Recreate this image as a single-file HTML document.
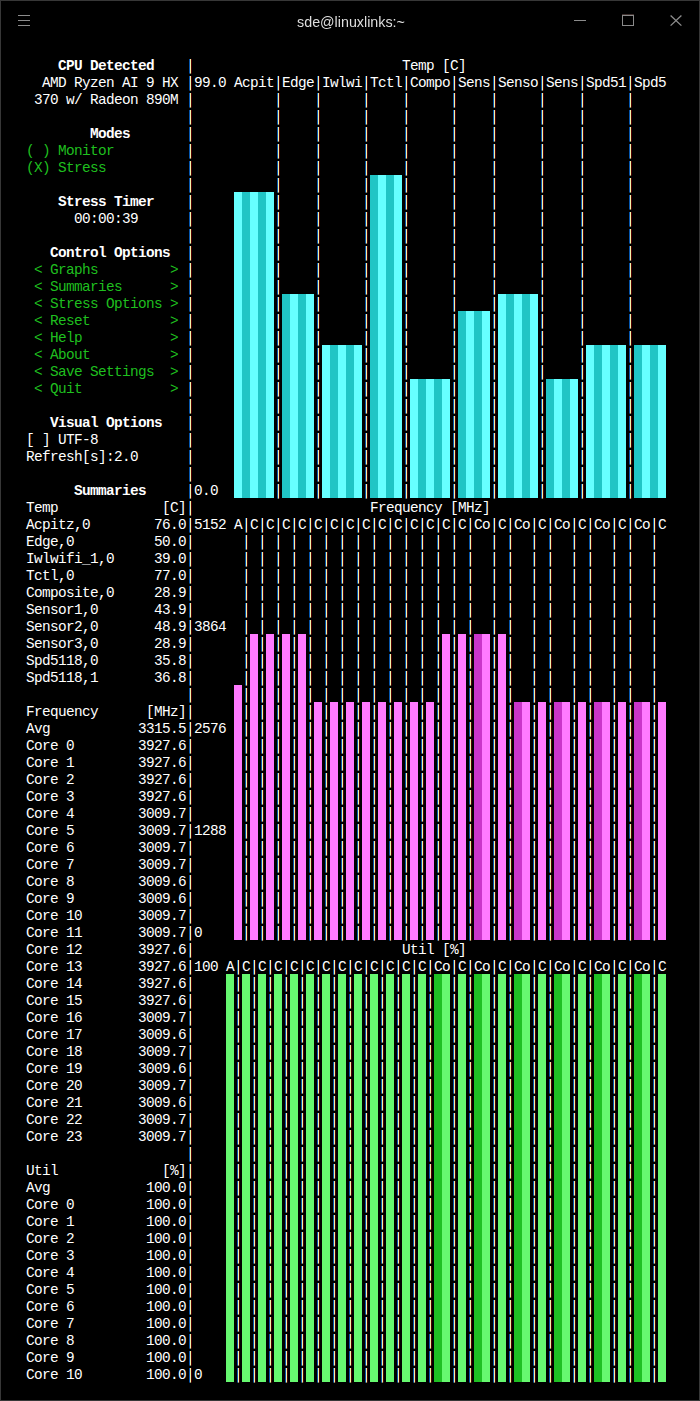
<!DOCTYPE html>
<html><head><meta charset="utf-8"><title>sde@linuxlinks:~</title>
<style>
html,body{margin:0;padding:0;background:#000;}
body{width:700px;height:1401px;position:relative;overflow:hidden;font-family:"Liberation Mono",monospace;}
#win{position:absolute;left:0;top:0;width:698px;height:1399px;border:1px solid #373737;background:#000;}
#title{position:absolute;left:1px;top:14px;width:700px;text-align:center;font-family:"Liberation Sans",sans-serif;font-size:14.3px;line-height:16px;color:#dedede;will-change:transform;}
.ic{position:absolute;background:#8c8c8c;}
#term{position:absolute;left:0;top:0;}
.t{position:absolute;height:17px;line-height:17px;font-size:14.4px;letter-spacing:-0.641px;color:#fff;white-space:pre;margin-top:2px;}
.b{font-weight:bold;}
.g{color:#1fbf1f;}
.p{position:absolute;width:3px;}
.p{background:repeating-linear-gradient(to bottom,transparent 0,transparent 14px,rgba(0,0,0,.4) 14px,rgba(0,0,0,.4) 15px,#000 15px,#000 17px),linear-gradient(to right,#0656ae 0,#0656ae 1px,#f2f2a8 1px,#f2f2a8 2px,#500000 2px,#500000 3px);}
.k{position:absolute;width:8px;}
</style></head><body>
<div id="win"></div>
<div class="ic" style="left:18px;top:15px;width:12px;height:1px"></div>
<div class="ic" style="left:18px;top:20px;width:12px;height:1px"></div>
<div class="ic" style="left:18px;top:25px;width:12px;height:1px"></div>
<div id="title">sde@linuxlinks:~</div>
<div class="ic" style="left:574px;top:20px;width:12px;height:1px"></div>
<div style="position:absolute;left:622px;top:14px;width:12px;height:1px;background:#3e302e"></div>
<div style="position:absolute;left:622px;top:15px;width:10px;height:9px;border:1px solid #8a8a8a"></div>
<svg style="position:absolute;left:669px;top:14px" width="14" height="14" viewBox="0 0 14 14"><path d="M1.6 1.5 L12.4 11.6 M12.4 1.5 L1.6 11.6" stroke="#8e8e8e" stroke-width="1.3" fill="none"/></svg>
<div id="term">
<div class="k" style="left:234px;top:192px;height:306px;background:#66ffff"></div>
<div class="k" style="left:242px;top:192px;height:306px;background:#20c5c5"></div>
<div class="k" style="left:250px;top:192px;height:306px;background:#66ffff"></div>
<div class="k" style="left:258px;top:192px;height:306px;background:#20c5c5"></div>
<div class="k" style="left:266px;top:192px;height:306px;background:#66ffff"></div>
<div class="k" style="left:282px;top:294px;height:204px;background:#20c5c5"></div>
<div class="k" style="left:290px;top:294px;height:204px;background:#66ffff"></div>
<div class="k" style="left:298px;top:294px;height:204px;background:#20c5c5"></div>
<div class="k" style="left:306px;top:294px;height:204px;background:#66ffff"></div>
<div class="k" style="left:322px;top:345px;height:153px;background:#66ffff"></div>
<div class="k" style="left:330px;top:345px;height:153px;background:#20c5c5"></div>
<div class="k" style="left:338px;top:345px;height:153px;background:#66ffff"></div>
<div class="k" style="left:346px;top:345px;height:153px;background:#20c5c5"></div>
<div class="k" style="left:354px;top:345px;height:153px;background:#66ffff"></div>
<div class="k" style="left:370px;top:175px;height:323px;background:#20c5c5"></div>
<div class="k" style="left:378px;top:175px;height:323px;background:#66ffff"></div>
<div class="k" style="left:386px;top:175px;height:323px;background:#20c5c5"></div>
<div class="k" style="left:394px;top:175px;height:323px;background:#66ffff"></div>
<div class="k" style="left:410px;top:379px;height:119px;background:#66ffff"></div>
<div class="k" style="left:418px;top:379px;height:119px;background:#20c5c5"></div>
<div class="k" style="left:426px;top:379px;height:119px;background:#66ffff"></div>
<div class="k" style="left:434px;top:379px;height:119px;background:#20c5c5"></div>
<div class="k" style="left:442px;top:379px;height:119px;background:#66ffff"></div>
<div class="k" style="left:458px;top:311px;height:187px;background:#20c5c5"></div>
<div class="k" style="left:466px;top:311px;height:187px;background:#66ffff"></div>
<div class="k" style="left:474px;top:311px;height:187px;background:#20c5c5"></div>
<div class="k" style="left:482px;top:311px;height:187px;background:#66ffff"></div>
<div class="k" style="left:498px;top:294px;height:204px;background:#66ffff"></div>
<div class="k" style="left:506px;top:294px;height:204px;background:#20c5c5"></div>
<div class="k" style="left:514px;top:294px;height:204px;background:#66ffff"></div>
<div class="k" style="left:522px;top:294px;height:204px;background:#20c5c5"></div>
<div class="k" style="left:530px;top:294px;height:204px;background:#66ffff"></div>
<div class="k" style="left:546px;top:379px;height:119px;background:#20c5c5"></div>
<div class="k" style="left:554px;top:379px;height:119px;background:#66ffff"></div>
<div class="k" style="left:562px;top:379px;height:119px;background:#20c5c5"></div>
<div class="k" style="left:570px;top:379px;height:119px;background:#66ffff"></div>
<div class="k" style="left:586px;top:345px;height:153px;background:#66ffff"></div>
<div class="k" style="left:594px;top:345px;height:153px;background:#20c5c5"></div>
<div class="k" style="left:602px;top:345px;height:153px;background:#66ffff"></div>
<div class="k" style="left:610px;top:345px;height:153px;background:#20c5c5"></div>
<div class="k" style="left:618px;top:345px;height:153px;background:#66ffff"></div>
<div class="k" style="left:634px;top:345px;height:153px;background:#20c5c5"></div>
<div class="k" style="left:642px;top:345px;height:153px;background:#66ffff"></div>
<div class="k" style="left:650px;top:345px;height:153px;background:#20c5c5"></div>
<div class="k" style="left:658px;top:345px;height:153px;background:#66ffff"></div>
<div class="k" style="left:234px;top:685px;height:255px;background:#ff7aff"></div>
<div class="k" style="left:250px;top:634px;height:306px;background:#ff7aff"></div>
<div class="k" style="left:266px;top:634px;height:306px;background:#ff7aff"></div>
<div class="k" style="left:282px;top:634px;height:306px;background:#ff7aff"></div>
<div class="k" style="left:298px;top:634px;height:306px;background:#ff7aff"></div>
<div class="k" style="left:314px;top:702px;height:238px;background:#ff7aff"></div>
<div class="k" style="left:330px;top:702px;height:238px;background:#ff7aff"></div>
<div class="k" style="left:346px;top:702px;height:238px;background:#ff7aff"></div>
<div class="k" style="left:362px;top:702px;height:238px;background:#ff7aff"></div>
<div class="k" style="left:378px;top:702px;height:238px;background:#ff7aff"></div>
<div class="k" style="left:394px;top:702px;height:238px;background:#ff7aff"></div>
<div class="k" style="left:410px;top:702px;height:238px;background:#ff7aff"></div>
<div class="k" style="left:426px;top:702px;height:238px;background:#ff7aff"></div>
<div class="k" style="left:442px;top:634px;height:306px;background:#ff7aff"></div>
<div class="k" style="left:458px;top:634px;height:306px;background:#ff7aff"></div>
<div class="k" style="left:474px;top:634px;height:306px;background:#c935c9"></div>
<div class="k" style="left:482px;top:634px;height:306px;background:#ff7aff"></div>
<div class="k" style="left:498px;top:634px;height:306px;background:#ff7aff"></div>
<div class="k" style="left:514px;top:702px;height:238px;background:#c935c9"></div>
<div class="k" style="left:522px;top:702px;height:238px;background:#ff7aff"></div>
<div class="k" style="left:538px;top:702px;height:238px;background:#ff7aff"></div>
<div class="k" style="left:554px;top:702px;height:238px;background:#c935c9"></div>
<div class="k" style="left:562px;top:702px;height:238px;background:#ff7aff"></div>
<div class="k" style="left:578px;top:702px;height:238px;background:#ff7aff"></div>
<div class="k" style="left:594px;top:702px;height:238px;background:#c935c9"></div>
<div class="k" style="left:602px;top:702px;height:238px;background:#ff7aff"></div>
<div class="k" style="left:618px;top:702px;height:238px;background:#ff7aff"></div>
<div class="k" style="left:634px;top:702px;height:238px;background:#c935c9"></div>
<div class="k" style="left:642px;top:702px;height:238px;background:#ff7aff"></div>
<div class="k" style="left:658px;top:702px;height:238px;background:#ff7aff"></div>
<div class="k" style="left:226px;top:974px;height:408px;background:#66f870"></div>
<div class="k" style="left:242px;top:974px;height:408px;background:#66f870"></div>
<div class="k" style="left:258px;top:974px;height:408px;background:#66f870"></div>
<div class="k" style="left:274px;top:974px;height:408px;background:#66f870"></div>
<div class="k" style="left:290px;top:974px;height:408px;background:#66f870"></div>
<div class="k" style="left:306px;top:974px;height:408px;background:#66f870"></div>
<div class="k" style="left:322px;top:974px;height:408px;background:#66f870"></div>
<div class="k" style="left:338px;top:974px;height:408px;background:#66f870"></div>
<div class="k" style="left:354px;top:974px;height:408px;background:#66f870"></div>
<div class="k" style="left:370px;top:974px;height:408px;background:#66f870"></div>
<div class="k" style="left:386px;top:974px;height:408px;background:#66f870"></div>
<div class="k" style="left:402px;top:974px;height:408px;background:#66f870"></div>
<div class="k" style="left:418px;top:974px;height:408px;background:#66f870"></div>
<div class="k" style="left:434px;top:974px;height:408px;background:#1fc024"></div>
<div class="k" style="left:442px;top:974px;height:408px;background:#66f870"></div>
<div class="k" style="left:458px;top:974px;height:408px;background:#66f870"></div>
<div class="k" style="left:474px;top:974px;height:408px;background:#1fc024"></div>
<div class="k" style="left:482px;top:974px;height:408px;background:#66f870"></div>
<div class="k" style="left:498px;top:974px;height:408px;background:#66f870"></div>
<div class="k" style="left:514px;top:974px;height:408px;background:#1fc024"></div>
<div class="k" style="left:522px;top:974px;height:408px;background:#66f870"></div>
<div class="k" style="left:538px;top:974px;height:408px;background:#66f870"></div>
<div class="k" style="left:554px;top:974px;height:408px;background:#1fc024"></div>
<div class="k" style="left:562px;top:974px;height:408px;background:#66f870"></div>
<div class="k" style="left:578px;top:974px;height:408px;background:#66f870"></div>
<div class="k" style="left:594px;top:974px;height:408px;background:#1fc024"></div>
<div class="k" style="left:602px;top:974px;height:408px;background:#66f870"></div>
<div class="k" style="left:618px;top:974px;height:408px;background:#66f870"></div>
<div class="k" style="left:634px;top:974px;height:408px;background:#1fc024"></div>
<div class="k" style="left:642px;top:974px;height:408px;background:#66f870"></div>
<div class="k" style="left:658px;top:974px;height:408px;background:#66f870"></div>
<div class="p" style="left:189px;top:59px;height:1324px"></div>
<div class="p" style="left:277px;top:76px;height:423px"></div>
<div class="p" style="left:317px;top:76px;height:423px"></div>
<div class="p" style="left:365px;top:76px;height:423px"></div>
<div class="p" style="left:405px;top:76px;height:423px"></div>
<div class="p" style="left:453px;top:76px;height:423px"></div>
<div class="p" style="left:493px;top:76px;height:423px"></div>
<div class="p" style="left:541px;top:76px;height:423px"></div>
<div class="p" style="left:581px;top:76px;height:423px"></div>
<div class="p" style="left:629px;top:76px;height:423px"></div>
<div class="p" style="left:245px;top:518px;height:423px"></div>
<div class="p" style="left:261px;top:518px;height:423px"></div>
<div class="p" style="left:277px;top:518px;height:423px"></div>
<div class="p" style="left:293px;top:518px;height:423px"></div>
<div class="p" style="left:309px;top:518px;height:423px"></div>
<div class="p" style="left:325px;top:518px;height:423px"></div>
<div class="p" style="left:341px;top:518px;height:423px"></div>
<div class="p" style="left:357px;top:518px;height:423px"></div>
<div class="p" style="left:373px;top:518px;height:423px"></div>
<div class="p" style="left:389px;top:518px;height:423px"></div>
<div class="p" style="left:405px;top:518px;height:423px"></div>
<div class="p" style="left:421px;top:518px;height:423px"></div>
<div class="p" style="left:437px;top:518px;height:423px"></div>
<div class="p" style="left:453px;top:518px;height:423px"></div>
<div class="p" style="left:469px;top:518px;height:423px"></div>
<div class="p" style="left:493px;top:518px;height:423px"></div>
<div class="p" style="left:509px;top:518px;height:423px"></div>
<div class="p" style="left:533px;top:518px;height:423px"></div>
<div class="p" style="left:549px;top:518px;height:423px"></div>
<div class="p" style="left:573px;top:518px;height:423px"></div>
<div class="p" style="left:589px;top:518px;height:423px"></div>
<div class="p" style="left:613px;top:518px;height:423px"></div>
<div class="p" style="left:629px;top:518px;height:423px"></div>
<div class="p" style="left:653px;top:518px;height:423px"></div>
<div class="p" style="left:237px;top:960px;height:423px"></div>
<div class="p" style="left:253px;top:960px;height:423px"></div>
<div class="p" style="left:269px;top:960px;height:423px"></div>
<div class="p" style="left:285px;top:960px;height:423px"></div>
<div class="p" style="left:301px;top:960px;height:423px"></div>
<div class="p" style="left:317px;top:960px;height:423px"></div>
<div class="p" style="left:333px;top:960px;height:423px"></div>
<div class="p" style="left:349px;top:960px;height:423px"></div>
<div class="p" style="left:365px;top:960px;height:423px"></div>
<div class="p" style="left:381px;top:960px;height:423px"></div>
<div class="p" style="left:397px;top:960px;height:423px"></div>
<div class="p" style="left:413px;top:960px;height:423px"></div>
<div class="p" style="left:429px;top:960px;height:423px"></div>
<div class="p" style="left:453px;top:960px;height:423px"></div>
<div class="p" style="left:469px;top:960px;height:423px"></div>
<div class="p" style="left:493px;top:960px;height:423px"></div>
<div class="p" style="left:509px;top:960px;height:423px"></div>
<div class="p" style="left:533px;top:960px;height:423px"></div>
<div class="p" style="left:549px;top:960px;height:423px"></div>
<div class="p" style="left:573px;top:960px;height:423px"></div>
<div class="p" style="left:589px;top:960px;height:423px"></div>
<div class="p" style="left:613px;top:960px;height:423px"></div>
<div class="p" style="left:629px;top:960px;height:423px"></div>
<div class="p" style="left:653px;top:960px;height:423px"></div>
<div class="t b" style="left:58px;top:56px">CPU Detected</div>
<div class="t" style="left:402px;top:56px">Temp [C]</div>
<div class="t" style="left:42px;top:73px">AMD Ryzen AI 9 HX</div>
<div class="t" style="left:194px;top:73px">99.0</div>
<div class="t" style="left:234px;top:73px">Acpit</div>
<div class="t" style="left:282px;top:73px">Edge</div>
<div class="t" style="left:322px;top:73px">Iwlwi</div>
<div class="t" style="left:370px;top:73px">Tctl</div>
<div class="t" style="left:410px;top:73px">Compo</div>
<div class="t" style="left:458px;top:73px">Sens</div>
<div class="t" style="left:498px;top:73px">Senso</div>
<div class="t" style="left:546px;top:73px">Sens</div>
<div class="t" style="left:586px;top:73px">Spd51</div>
<div class="t" style="left:634px;top:73px">Spd5</div>
<div class="t" style="left:34px;top:90px">370 w/ Radeon 890M</div>
<div class="t b" style="left:90px;top:124px">Modes</div>
<div class="t g" style="left:26px;top:141px">( ) Monitor</div>
<div class="t g" style="left:26px;top:158px">(X) Stress</div>
<div class="t b" style="left:58px;top:192px">Stress Timer</div>
<div class="t" style="left:74px;top:209px">00:00:39</div>
<div class="t b" style="left:50px;top:243px">Control Options</div>
<div class="t g" style="left:34px;top:260px">&lt; Graphs         &gt;</div>
<div class="t g" style="left:34px;top:277px">&lt; Summaries      &gt;</div>
<div class="t g" style="left:34px;top:294px">&lt; Stress Options &gt;</div>
<div class="t g" style="left:34px;top:311px">&lt; Reset          &gt;</div>
<div class="t g" style="left:34px;top:328px">&lt; Help           &gt;</div>
<div class="t g" style="left:34px;top:345px">&lt; About          &gt;</div>
<div class="t g" style="left:34px;top:362px">&lt; Save Settings  &gt;</div>
<div class="t g" style="left:34px;top:379px">&lt; Quit           &gt;</div>
<div class="t b" style="left:50px;top:413px">Visual Options</div>
<div class="t" style="left:26px;top:430px">[ ] UTF-8</div>
<div class="t" style="left:26px;top:447px">Refresh[s]:2.0</div>
<div class="t b" style="left:74px;top:481px">Summaries</div>
<div class="t" style="left:194px;top:481px">0.0</div>
<div class="t" style="left:26px;top:498px">Temp</div>
<div class="t" style="left:162px;top:498px">[C]</div>
<div class="t" style="left:370px;top:498px">Frequency [MHz]</div>
<div class="t" style="left:26px;top:515px">Acpitz,0</div>
<div class="t" style="left:154px;top:515px">76.0</div>
<div class="t" style="left:194px;top:515px">5152</div>
<div class="t" style="left:234px;top:515px">A</div>
<div class="t" style="left:250px;top:515px">C</div>
<div class="t" style="left:266px;top:515px">C</div>
<div class="t" style="left:282px;top:515px">C</div>
<div class="t" style="left:298px;top:515px">C</div>
<div class="t" style="left:314px;top:515px">C</div>
<div class="t" style="left:330px;top:515px">C</div>
<div class="t" style="left:346px;top:515px">C</div>
<div class="t" style="left:362px;top:515px">C</div>
<div class="t" style="left:378px;top:515px">C</div>
<div class="t" style="left:394px;top:515px">C</div>
<div class="t" style="left:410px;top:515px">C</div>
<div class="t" style="left:426px;top:515px">C</div>
<div class="t" style="left:442px;top:515px">C</div>
<div class="t" style="left:458px;top:515px">C</div>
<div class="t" style="left:474px;top:515px">Co</div>
<div class="t" style="left:498px;top:515px">C</div>
<div class="t" style="left:514px;top:515px">Co</div>
<div class="t" style="left:538px;top:515px">C</div>
<div class="t" style="left:554px;top:515px">Co</div>
<div class="t" style="left:578px;top:515px">C</div>
<div class="t" style="left:594px;top:515px">Co</div>
<div class="t" style="left:618px;top:515px">C</div>
<div class="t" style="left:634px;top:515px">Co</div>
<div class="t" style="left:658px;top:515px">C</div>
<div class="t" style="left:26px;top:532px">Edge,0</div>
<div class="t" style="left:154px;top:532px">50.0</div>
<div class="t" style="left:26px;top:549px">Iwlwifi_1,0</div>
<div class="t" style="left:154px;top:549px">39.0</div>
<div class="t" style="left:26px;top:566px">Tctl,0</div>
<div class="t" style="left:154px;top:566px">77.0</div>
<div class="t" style="left:26px;top:583px">Composite,0</div>
<div class="t" style="left:154px;top:583px">28.9</div>
<div class="t" style="left:26px;top:600px">Sensor1,0</div>
<div class="t" style="left:154px;top:600px">43.9</div>
<div class="t" style="left:26px;top:617px">Sensor2,0</div>
<div class="t" style="left:154px;top:617px">48.9</div>
<div class="t" style="left:194px;top:617px">3864</div>
<div class="t" style="left:26px;top:634px">Sensor3,0</div>
<div class="t" style="left:154px;top:634px">28.9</div>
<div class="t" style="left:26px;top:651px">Spd5118,0</div>
<div class="t" style="left:154px;top:651px">35.8</div>
<div class="t" style="left:26px;top:668px">Spd5118,1</div>
<div class="t" style="left:154px;top:668px">36.8</div>
<div class="t" style="left:26px;top:702px">Frequency</div>
<div class="t" style="left:146px;top:702px">[MHz]</div>
<div class="t" style="left:26px;top:719px">Avg</div>
<div class="t" style="left:138px;top:719px">3315.5</div>
<div class="t" style="left:194px;top:719px">2576</div>
<div class="t" style="left:26px;top:736px">Core 0</div>
<div class="t" style="left:138px;top:736px">3927.6</div>
<div class="t" style="left:26px;top:753px">Core 1</div>
<div class="t" style="left:138px;top:753px">3927.6</div>
<div class="t" style="left:26px;top:770px">Core 2</div>
<div class="t" style="left:138px;top:770px">3927.6</div>
<div class="t" style="left:26px;top:787px">Core 3</div>
<div class="t" style="left:138px;top:787px">3927.6</div>
<div class="t" style="left:26px;top:804px">Core 4</div>
<div class="t" style="left:138px;top:804px">3009.7</div>
<div class="t" style="left:26px;top:821px">Core 5</div>
<div class="t" style="left:138px;top:821px">3009.7</div>
<div class="t" style="left:194px;top:821px">1288</div>
<div class="t" style="left:26px;top:838px">Core 6</div>
<div class="t" style="left:138px;top:838px">3009.7</div>
<div class="t" style="left:26px;top:855px">Core 7</div>
<div class="t" style="left:138px;top:855px">3009.7</div>
<div class="t" style="left:26px;top:872px">Core 8</div>
<div class="t" style="left:138px;top:872px">3009.6</div>
<div class="t" style="left:26px;top:889px">Core 9</div>
<div class="t" style="left:138px;top:889px">3009.6</div>
<div class="t" style="left:26px;top:906px">Core 10</div>
<div class="t" style="left:138px;top:906px">3009.7</div>
<div class="t" style="left:26px;top:923px">Core 11</div>
<div class="t" style="left:138px;top:923px">3009.7</div>
<div class="t" style="left:194px;top:923px">0</div>
<div class="t" style="left:26px;top:940px">Core 12</div>
<div class="t" style="left:138px;top:940px">3927.6</div>
<div class="t" style="left:402px;top:940px">Util [%]</div>
<div class="t" style="left:26px;top:957px">Core 13</div>
<div class="t" style="left:138px;top:957px">3927.6</div>
<div class="t" style="left:194px;top:957px">100</div>
<div class="t" style="left:226px;top:957px">A</div>
<div class="t" style="left:242px;top:957px">C</div>
<div class="t" style="left:258px;top:957px">C</div>
<div class="t" style="left:274px;top:957px">C</div>
<div class="t" style="left:290px;top:957px">C</div>
<div class="t" style="left:306px;top:957px">C</div>
<div class="t" style="left:322px;top:957px">C</div>
<div class="t" style="left:338px;top:957px">C</div>
<div class="t" style="left:354px;top:957px">C</div>
<div class="t" style="left:370px;top:957px">C</div>
<div class="t" style="left:386px;top:957px">C</div>
<div class="t" style="left:402px;top:957px">C</div>
<div class="t" style="left:418px;top:957px">C</div>
<div class="t" style="left:434px;top:957px">Co</div>
<div class="t" style="left:458px;top:957px">C</div>
<div class="t" style="left:474px;top:957px">Co</div>
<div class="t" style="left:498px;top:957px">C</div>
<div class="t" style="left:514px;top:957px">Co</div>
<div class="t" style="left:538px;top:957px">C</div>
<div class="t" style="left:554px;top:957px">Co</div>
<div class="t" style="left:578px;top:957px">C</div>
<div class="t" style="left:594px;top:957px">Co</div>
<div class="t" style="left:618px;top:957px">C</div>
<div class="t" style="left:634px;top:957px">Co</div>
<div class="t" style="left:658px;top:957px">C</div>
<div class="t" style="left:26px;top:974px">Core 14</div>
<div class="t" style="left:138px;top:974px">3927.6</div>
<div class="t" style="left:26px;top:991px">Core 15</div>
<div class="t" style="left:138px;top:991px">3927.6</div>
<div class="t" style="left:26px;top:1008px">Core 16</div>
<div class="t" style="left:138px;top:1008px">3009.7</div>
<div class="t" style="left:26px;top:1025px">Core 17</div>
<div class="t" style="left:138px;top:1025px">3009.6</div>
<div class="t" style="left:26px;top:1042px">Core 18</div>
<div class="t" style="left:138px;top:1042px">3009.7</div>
<div class="t" style="left:26px;top:1059px">Core 19</div>
<div class="t" style="left:138px;top:1059px">3009.6</div>
<div class="t" style="left:26px;top:1076px">Core 20</div>
<div class="t" style="left:138px;top:1076px">3009.7</div>
<div class="t" style="left:26px;top:1093px">Core 21</div>
<div class="t" style="left:138px;top:1093px">3009.6</div>
<div class="t" style="left:26px;top:1110px">Core 22</div>
<div class="t" style="left:138px;top:1110px">3009.7</div>
<div class="t" style="left:26px;top:1127px">Core 23</div>
<div class="t" style="left:138px;top:1127px">3009.7</div>
<div class="t" style="left:26px;top:1161px">Util</div>
<div class="t" style="left:162px;top:1161px">[%]</div>
<div class="t" style="left:26px;top:1178px">Avg</div>
<div class="t" style="left:146px;top:1178px">100.0</div>
<div class="t" style="left:26px;top:1195px">Core 0</div>
<div class="t" style="left:146px;top:1195px">100.0</div>
<div class="t" style="left:26px;top:1212px">Core 1</div>
<div class="t" style="left:146px;top:1212px">100.0</div>
<div class="t" style="left:26px;top:1229px">Core 2</div>
<div class="t" style="left:146px;top:1229px">100.0</div>
<div class="t" style="left:26px;top:1246px">Core 3</div>
<div class="t" style="left:146px;top:1246px">100.0</div>
<div class="t" style="left:26px;top:1263px">Core 4</div>
<div class="t" style="left:146px;top:1263px">100.0</div>
<div class="t" style="left:26px;top:1280px">Core 5</div>
<div class="t" style="left:146px;top:1280px">100.0</div>
<div class="t" style="left:26px;top:1297px">Core 6</div>
<div class="t" style="left:146px;top:1297px">100.0</div>
<div class="t" style="left:26px;top:1314px">Core 7</div>
<div class="t" style="left:146px;top:1314px">100.0</div>
<div class="t" style="left:26px;top:1331px">Core 8</div>
<div class="t" style="left:146px;top:1331px">100.0</div>
<div class="t" style="left:26px;top:1348px">Core 9</div>
<div class="t" style="left:146px;top:1348px">100.0</div>
<div class="t" style="left:26px;top:1365px">Core 10</div>
<div class="t" style="left:146px;top:1365px">100.0</div>
<div class="t" style="left:194px;top:1365px">0</div>
</div></body></html>
